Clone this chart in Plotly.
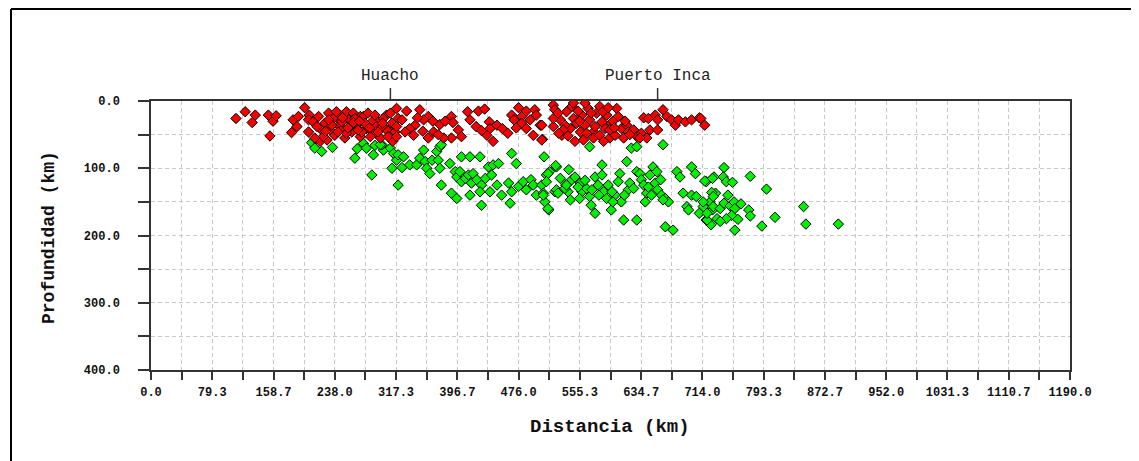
import plotly.graph_objects as go

# ---------------- data (km) ----------------
red_x = [110, 122, 131, 135, 152, 158, 162, 154, 182, 189, 184, 191, 199, 205, 204,
         219, 228, 253, 271, 292, 313, 313, 305, 318,
         210, 217, 219, 225, 230, 232, 236, 238, 243, 245, 249, 251, 256, 260, 262, 266,
         271, 275, 279, 281, 286, 288, 292, 297, 301, 305, 307, 312, 316, 320,
         215, 223, 240, 247, 258, 264, 273, 284, 290, 299, 310, 318, 234, 253, 277, 294,
         204, 212, 226, 242, 262, 283, 300, 255, 270, 230, 248, 268,
         331, 348, 359, 353, 342, 335, 329, 340, 325, 318, 359, 366, 374, 381, 389,
         391, 398, 402, 389, 379, 410, 413, 421, 424, 432, 438, 439, 435, 443, 448, 455,
         476, 467, 470, 480, 486, 497, 499, 491, 480, 473, 486, 504, 495, 507, 521,
         345, 352, 365, 372, 428, 462,
         506, 506, 523, 530, 521, 532, 538, 545, 547, 543, 549, 556, 558, 566, 568, 562,
         573, 573, 577, 581, 584, 588, 590, 594, 596, 603, 605, 609, 616, 618, 625, 629,
         635, 642, 646, 638, 644, 653, 656, 663, 668, 674, 679, 683, 692, 700, 710, 717,
         656, 521, 536, 551, 564, 594, 601, 562, 547, 527, 612, 633, 534, 581, 712,
         528, 540, 553, 570, 575, 585, 592, 598, 555, 560, 586, 600, 614, 620]
red_y = [26, 16, 32, 21, 21, 30, 22, 52, 47, 38, 28, 23, 10, 21, 28,
         60, 58, 16, 23, 28, 38, 60, 21, 11,
         31, 23, 41, 33, 18, 43, 26, 51, 36, 21, 41, 55, 28, 46, 18, 36,
         53, 23, 41, 18, 31, 48, 38, 55, 26, 43, 53, 33, 46, 26,
         38, 53, 16, 31, 38, 26, 46, 53, 21, 38, 18, 38, 36, 48, 33, 46,
         46, 55, 45, 46, 32, 40, 33, 40, 30, 28, 25, 43,
         15, 13, 23, 28, 36, 41, 46, 51, 28, 53, 55, 46, 35, 30, 23,
         32, 43, 53, 55, 55, 16, 28, 38, 15, 12, 31, 41, 51, 60, 36, 41,
         10, 21, 28, 23, 15, 13, 21, 28, 33, 40, 41, 36, 51, 57, 6,
         25, 45, 30, 50, 44, 48,
         36, 58, 13, 28, 38, 51, 16, 8, 26, 41, 60, 46, 21, 11, 28, 36,
         46, 55, 18, 8, 31, 41, 21, 55, 33, 11, 23, 41, 36, 46, 43, 53,
         48, 55, 43, 25, 26, 21, 28, 13, 23, 28, 36, 28, 31, 28, 25, 36,
         43, 26, 36, 33, 48, 43, 51, 3, 3, 18, 55, 55, 43, 51, 26,
         48, 52, 15, 18, 38, 16, 10, 30, 30, 58, 60, 40, 30, 50]

green_x = [208, 212, 221, 235, 264, 267, 275, 288, 286, 301, 299, 310, 314, 312, 318, 320, 290, 279, 297,
           320, 327, 325, 335, 344, 348, 353, 355, 357, 361, 364, 370, 374, 376, 372, 374, 376,
           387, 394, 396, 402, 413, 426, 400, 402, 407, 411, 415, 417, 422, 428, 433, 437, 443,
           450, 441, 448, 426, 413, 389, 396, 428, 454, 439, 463, 467, 465, 476, 482, 486, 492,
           495, 499, 506, 508, 510, 515, 512, 516, 523, 525, 467, 473, 509, 537, 540,
           524, 514, 512, 508, 514, 525, 527, 536, 538, 543, 545, 549, 556, 558, 564, 568, 570,
           575, 568, 575, 579, 584, 584, 586, 590, 596, 592, 601, 607, 609, 612, 616, 618, 620,
           622, 629, 629, 629, 633, 635, 638, 642, 640, 646, 650, 653, 655, 660, 656, 661, 666,
           670, 663, 666, 676, 681, 685, 689, 694, 696, 700, 705, 700, 706, 710, 715, 719, 724,
           727, 729, 731, 733, 719, 663,
           742, 741, 727, 717, 745, 753, 776, 797, 747, 726, 715, 728, 728, 737, 742, 750, 755,
           764, 756, 752, 745, 737, 725, 720, 720, 760, 756, 774, 776, 791, 808, 845, 848, 890,
           553, 562, 571, 580, 597, 605, 613, 625, 644, 648, 598, 555, 530, 541]
green_y = [62, 70, 75, 69, 85, 71, 63, 80, 110, 73, 65, 70, 78, 100, 88, 125, 66, 70, 65,
           80, 83, 99, 95, 95, 85, 73, 90, 100, 108, 88, 75, 68, 65, 88, 100, 125,
           93, 105, 113, 83, 83, 83, 105, 120, 115, 110, 122, 108, 117, 125, 115, 98, 95,
           93, 110, 125, 135, 140, 137, 145, 155, 140, 135, 122, 135, 152, 127, 120, 132, 117,
           125, 140, 125, 137, 150, 162, 110, 105, 135, 98, 78, 93, 83, 125, 135,
           96, 108, 120, 140, 160, 132, 137, 130, 125, 147, 117, 113, 122, 135, 130, 142, 155,
           167, 68, 113, 125, 95, 110, 135, 145, 162, 125, 140, 108, 150, 177, 90, 132, 122,
           70, 68, 177, 105, 108, 117, 125, 137, 150, 110, 98, 122, 105, 117, 132, 140, 145,
           150, 65, 187, 192, 105, 113, 137, 157, 162, 98, 108, 140, 142, 167, 157, 120, 150,
           162, 113, 137, 175, 177, 147,
           99, 113, 115, 119, 120, 121, 112, 131, 140, 136, 150, 142, 157, 160, 152, 156, 150,
           153, 160, 170, 175, 179, 184, 177, 167, 176, 192, 162, 171, 186, 173, 157, 183, 183,
           128, 118, 132, 140, 135, 120, 140, 130, 128, 140, 150, 145, 115, 102]

x_tick_vals = [i * 1190 / 15 for i in range(16)]
x_tick_text = ["0.0", "79.3", "158.7", "238.0", "317.3", "396.7", "476.0", "555.3",
               "634.7", "714.0", "793.3", "872.7", "952.0", "1031.3", "1110.7", "1190.0"]
x_minor_vals = [(2 * i + 1) * 1190 / 30 for i in range(15)]
y_tick_vals = [0, 100, 200, 300, 400]
y_tick_text = ["0.0", "100.0", "200.0", "300.0", "400.0"]
y_minor_vals = [50, 150, 250, 350]

places = ["Huacho", "Puerto Inca"]
place_x = [310, 656]

# ---------------- figure ----------------
OFF = 8  # page body margin
W, H = 1139 - OFF, 461 - OFF
L, T = 151 - OFF, 101 - OFF
R = W - (1070 - OFF)
B = H - (370 - OFF)
pw, ph = W - L - R, H - T - B

def px_x(p):
    return (p - OFF - L) / pw

def px_y(p):
    return (H - B - (p - OFF)) / ph

fig = go.Figure()
fig.add_trace(go.Scatter(x=green_x, y=green_y, mode="markers", name="intermedios",
                         marker=dict(symbol="diamond", size=8, color="#00f000",
                                     line=dict(color="#000000", width=1))))
fig.add_trace(go.Scatter(x=red_x, y=red_y, mode="markers", name="superficiales",
                         marker=dict(symbol="diamond", size=8, color="#f80000",
                                     line=dict(color="#000000", width=1))))

tickfont = dict(family="Liberation Mono", size=12, color="#111111", weight="bold")
grid = dict(showgrid=True, gridcolor="#c8c8c8", griddash="4px,3px", gridwidth=1)

fig.update_xaxes(range=[0, 1190], tickmode="array", tickvals=x_tick_vals, ticktext=x_tick_text,
                 ticks="outside", ticklen=8, tickwidth=1.5, tickcolor="#333333",
                 showline=True, linecolor="#333333", linewidth=1.5, mirror=True,
                 tickfont=tickfont, zeroline=False, ticklabelstandoff=2,
                 minor=dict(tickmode="array", tickvals=x_minor_vals, ticks="outside", ticklen=8,
                            tickwidth=1.5, tickcolor="#333333", **grid),
                 **grid)
fig.update_yaxes(range=[400, 0], tickmode="array", tickvals=y_tick_vals, ticktext=y_tick_text,
                 ticks="outside", ticklen=11, tickwidth=1.5, tickcolor="#333333",
                 showline=True, linecolor="#333333", linewidth=1.5, mirror=True,
                 tickfont=tickfont, zeroline=False, ticklabelstandoff=16,
                 minor=dict(tickmode="array", tickvals=y_minor_vals, ticks="outside", ticklen=11,
                            tickwidth=1.5, tickcolor="#333333", **grid),
                 **grid)

shapes = [
    dict(type="line", xref="paper", yref="paper", x0=px_x(11), x1=px_x(11),
         y0=px_y(470), y1=px_y(9), line=dict(color="#000000", width=2)),
    dict(type="line", xref="paper", yref="paper", x0=px_x(11), x1=px_x(1145),
         y0=px_y(9), y1=px_y(9), line=dict(color="#000000", width=2)),
]
annotations = [
    dict(text="Distancia (km)", xref="paper", yref="paper", x=px_x(610), y=px_y(427),
         showarrow=False, xanchor="center", yanchor="middle",
         font=dict(family="Liberation Mono", size=19, color="#111111", weight="bold")),
    dict(text="Profundidad (km)", xref="paper", yref="paper", x=px_x(49), y=px_y(238),
         showarrow=False, xanchor="center", yanchor="middle", textangle=-90,
         font=dict(family="Liberation Mono", size=18, color="#111111", weight="bold")),
]
for name, xv in zip(places, place_x):
    shapes.append(dict(type="line", xref="x", yref="paper", x0=xv, x1=xv,
                       y0=1, y1=px_y(88), line=dict(color="#333333", width=1.5)))
    annotations.append(dict(text=name, xref="x", yref="paper", x=xv, y=px_y(76),
                            showarrow=False, xanchor="center", yanchor="middle",
                            font=dict(family="Liberation Mono", size=16, color="#222222")))

fig.update_layout(width=W, height=H, margin=dict(l=L, r=R, t=T, b=B, pad=0),
                  plot_bgcolor="white", paper_bgcolor="white", showlegend=False,
                  shapes=shapes, annotations=annotations)

fig.write_html("out.html")
